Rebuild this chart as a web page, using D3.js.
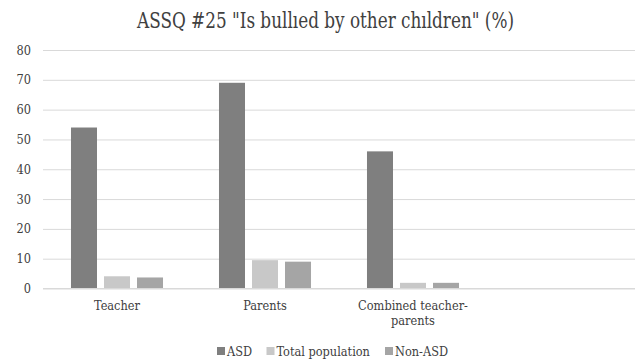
<!DOCTYPE html>
<html><head><meta charset="utf-8">
<script src="https://cdn.jsdelivr.net/npm/d3@7"></script>
<style>body{margin:0;background:#fff}svg{display:block}</style>
</head><body>
<svg id="c" width="638" height="362"></svg>
<script>
const categories = ["Teacher", "Parents", "Combined teacher-parents", ""];
const categoryLines = [["Teacher"], ["Parents"], ["Combined teacher-", "parents"], []];
const seriesNames = ["ASD", "Total population", "Non-ASD"];
const asd = [54, 69, 46, null];
const totalPopulation = [4.1, 9.5, 1.9, null];
const nonAsd = [3.7, 9.0, 1.9, null];
const yTicks = [0, 10, 20, 30, 40, 50, 60, 70, 80];
const title = "ASSQ #25 \"Is bullıed by other chıldren\" (%)";

const colors = ["#7f7f7f", "#c8c8c8", "#a5a5a5"];
const seriesValues = [asd, totalPopulation, nonAsd];
const font = "'DejaVu Serif Condensed', 'DejaVu Serif', serif";

const svg = d3.select("#c");
const plotLeft = 43, plotRight = 635, plotTop = 50, plotBottom = 288.5;

function fitSize(sample, target, base) {
  const t = svg.append("text").attr("font-family", font).attr("font-size", base).text(sample);
  const w = t.node().getComputedTextLength();
  t.remove();
  return base * target / w;
}
const labelSize = fitSize("Teacher", 46, 13);

const y = d3.scaleLinear().domain([0, 80]).range([plotBottom, plotTop]);
const x0 = d3.scaleBand().domain(categories.map((d, i) => i)).range([plotLeft, plotRight]).padding(0);
const x1 = d3.scaleBand().domain(seriesNames).range([0, x0.bandwidth()]).paddingInner(0.212).paddingOuter(0.848);

// gridlines
const yAxis = d3.axisLeft(y).tickValues(yTicks).tickSize(-(plotRight - plotLeft)).tickPadding(12);
const gy = svg.append("g").attr("transform", `translate(${plotLeft},0)`).call(yAxis);
gy.select(".domain").remove();
gy.selectAll(".tick line").attr("stroke", "#d9d9d9").attr("stroke-width", 1);
gy.selectAll(".tick text").attr("font-family", font).attr("font-size", labelSize).attr("fill", "#404040");

// bars
categories.forEach((c, i) => {
  seriesNames.forEach((s, j) => {
    const v = seriesValues[j][i];
    if (v == null) return;
    svg.append("rect")
      .attr("x", x0(i) + x1(s))
      .attr("y", y(v))
      .attr("width", x1.bandwidth())
      .attr("height", y(0) - y(v))
      .attr("fill", colors[j]);
  });
});

// x axis line
svg.append("line").attr("x1", plotLeft).attr("x2", plotRight).attr("y1", y(0)).attr("y2", y(0))
  .attr("stroke", "#d9d9d9").attr("stroke-width", 1);

// category labels
categoryLines.forEach((lines, i) => {
  lines.forEach((t, k) => {
    svg.append("text").attr("x", x0(i) + x0.bandwidth() / 2).attr("y", 310 + k * 15)
      .attr("text-anchor", "middle").attr("font-family", font).attr("font-size", labelSize)
      .attr("fill", "#404040").text(t);
  });
});

// title
svg.append("text").attr("x", 137).attr("y", 28)
  .attr("font-family", font).attr("font-size", 21.5).attr("fill", "#404040")
  .attr("textLength", 377).attr("lengthAdjust", "spacingAndGlyphs").text(title);

// legend
const legendX = [217, 266.5, 385];
seriesNames.forEach((s, j) => {
  const g = svg.append("g").attr("transform", `translate(${legendX[j]},0)`);
  g.append("rect").attr("x", 0).attr("y", 347).attr("width", 8).attr("height", 8).attr("fill", colors[j]);
  g.append("text").attr("x", 10).attr("y", 355.5).attr("font-family", font).attr("font-size", labelSize)
    .attr("fill", "#404040").text(s);
});
</script>
</body></html>
